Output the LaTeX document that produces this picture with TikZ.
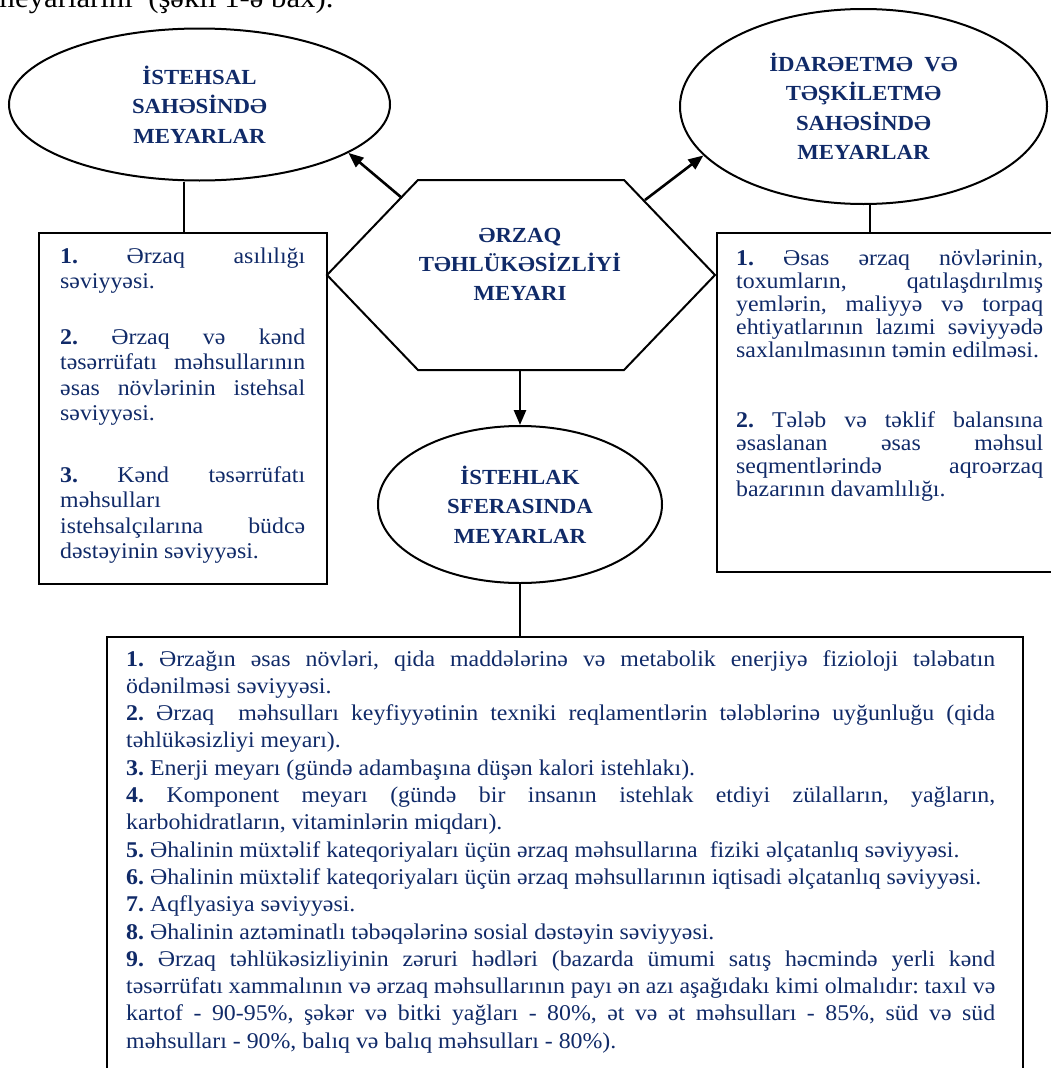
\documentclass[tikz,border=0pt]{standalone}
\usepackage{fontspec}
\setmainfont{Liberation Serif}[FakeStretch=1.06]
\usetikzlibrary{arrows.meta,calc,shapes.geometric}
\definecolor{navy}{RGB}{16,42,104}
\setlength{\parindent}{0pt}
\frenchspacing
\begin{document}
\begin{tikzpicture}[x=1pt,y=-1pt,
  ell/.style={draw,line width=2pt,ellipse,inner sep=0pt,align=center,text=navy,
    font=\fontsize{21.5}{29.5}\selectfont\bfseries},
  boxnode/.style={draw,line width=2.2pt,rectangle,inner sep=0pt,anchor=north west},
  bodytxt/.style={anchor=base west,inner sep=0pt,align=justify,text=navy},
  arr/.style={line width=2.6pt,-{Triangle[length=15pt,width=12pt]}},
  ln/.style={line width=2pt}]
\useasboundingbox (0,0) rectangle (1051,1068);

% partial document text at top
\node[anchor=base west,inner sep=0pt,font=\fontsize{29}{34}\selectfont] (toptext) at (-9,8) {meyarlarını\ \ (şəkil 1-ə bax).};

% ellipses
\node[ell,minimum width=381pt,minimum height=152pt] (eL) at (199.5,104.5) {İSTEHSAL\\SAHƏSİNDƏ\\MEYARLAR};
\node[ell,minimum width=367pt,minimum height=195pt] (eR) at (863.5,106.5) {İDARƏETMƏ\ \ VƏ\\TƏŞKİLETMƏ\\SAHƏSİNDƏ\\MEYARLAR};
\node[ell,minimum width=284pt,minimum height=157pt] (eB) at (520,504.5) {İSTEHLAK\\SFERASINDA\\MEYARLAR};

% hexagon
\coordinate (hTL) at (418,180);
\coordinate (hTR) at (624,180);
\coordinate (hR) at (715,275);
\coordinate (hBR) at (624,370);
\coordinate (hBL) at (418,370);
\coordinate (hL) at (327,275);
\draw[line width=2pt] (hTL) -- (hTR) -- (hR) -- (hBR) -- (hBL) -- (hL) -- cycle;
\node[inner sep=0pt,align=center,text=navy,font=\fontsize{21.5}{29}\selectfont\bfseries] (hex) at (520,264) {ƏRZAQ\\TƏHLÜKƏSİZLİYİ\\MEYARI};
\coordinate (hUL) at (402,198);
\coordinate (hUR) at (645,200);
\coordinate (hB) at (520,370);

% boxes
\node[boxnode,minimum width=288pt,minimum height=351pt] (lbox) at (38,232) {};
\node[boxnode,minimum width=360pt,minimum height=339pt] (rbox) at (716,232) {};
\node[boxnode,minimum width=916pt,minimum height=460pt] (bbox) at (106,636) {};

% left box text
\node[bodytxt,text width=245pt,font=\fontsize{22.5}{25.5}\selectfont] (ltxt) at (60,263) {\tolerance=10000\hbadness=10000
{\bfseries 1.} Ərzaq asılılığı\linebreak səviyyəsi.\par\vspace{30pt}
{\bfseries 2.} Ərzaq və kənd\linebreak təsərrüfatı məhsullarının\linebreak əsas növlərinin istehsal\linebreak səviyyəsi.\par\vspace{36pt}
{\bfseries 3.} Kənd təsərrüfatı\linebreak məhsulları\hfill\linebreak istehsalçılarına büdcə\linebreak dəstəyinin səviyyəsi.\par};

% right box text
\node[bodytxt,text width=307pt,font=\fontsize{22.5}{23}\selectfont] (rtxt) at (736,265) {\tolerance=10000\hbadness=10000
{\bfseries 1.} Əsas ərzaq növlərinin,\linebreak toxumların, qatılaşdırılmış\linebreak yemlərin, maliyyə və torpaq\linebreak ehtiyatlarının lazımi səviyyədə\linebreak saxlanılmasının\ təmin edilməsi.\par\vspace{47pt}
{\bfseries 2.} Tələb və təklif balansına\linebreak əsaslanan əsas məhsul\linebreak seqmentlərində aqroərzaq\linebreak bazarının davamlılığı.\par};

% bottom box text
\node[bodytxt,text width=869pt,font=\fontsize{22.5}{27.3}\selectfont] (btxt) at (126,666) {\tolerance=10000\hbadness=10000
{\bfseries 1.} Ərzağın əsas növləri, qida maddələrinə və metabolik enerjiyə fizioloji tələbatın\linebreak ödənilməsi səviyyəsi.\par
{\bfseries 2.} Ərzaq\ \ məhsulları keyfiyyətinin texniki reqlamentlərin tələblərinə uyğunluğu (qida\linebreak təhlükəsizliyi meyarı).\par
{\bfseries 3.} Enerji meyarı (gündə adambaşına düşən kalori istehlakı).\par
{\bfseries 4.} Komponent meyarı (gündə bir insanın istehlak etdiyi zülalların, yağların,\linebreak karbohidratların, vitaminlərin miqdarı).\par
{\bfseries 5.} Əhalinin müxtəlif kateqoriyaları üçün ərzaq məhsullarına\ \ fiziki əlçatanlıq səviyyəsi.\par
{\bfseries 6.} Əhalinin müxtəlif kateqoriyaları üçün ərzaq məhsullarının iqtisadi əlçatanlıq səviyyəsi.\par
{\bfseries 7.} Aqflyasiya səviyyəsi.\par
{\bfseries 8.} Əhalinin aztəminatlı təbəqələrinə sosial dəstəyin səviyyəsi.\par
{\bfseries 9.} Ərzaq təhlükəsizliyinin zəruri hədləri (bazarda ümumi satış həcmində yerli kənd\linebreak təsərrüfatı xammalının və ərzaq məhsullarının payı ən azı aşağıdakı kimi olmalıdır: taxıl və\linebreak kartof - 90-95\%, şəkər və bitki yağları - 80\%, ət və ət məhsulları - 85\%, süd və süd\linebreak məhsulları - 90\%, balıq və balıq məhsulları - 80\%).\par};

% connectors
\draw[arr] (hUL) -- (eL.-18);
\draw[arr] (hUR) -- (eR.197);
\draw[arr] (hB) -- (eB.north);
\path (eL.south) ++(-15.5,0) coordinate (lt);
\draw[ln] (lt) -- (lt |- lbox.north);
\path (eR.south) ++(6.5,0) coordinate (rt);
\draw[ln] (rt) -- (rt |- rbox.north);
\draw[ln] (eB.south) -- (eB.south |- bbox.north);
\end{tikzpicture}
\end{document}
